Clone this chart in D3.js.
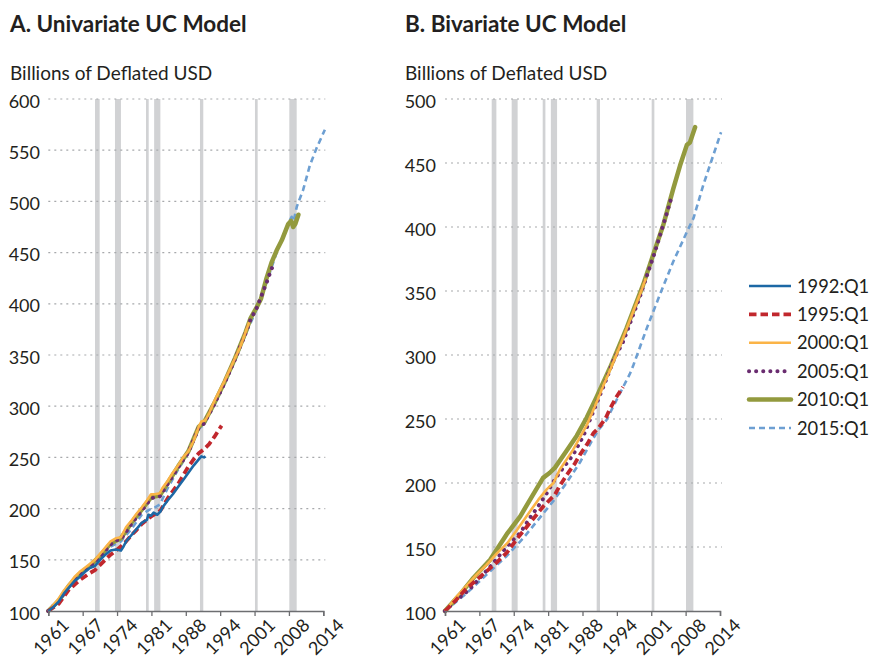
<!DOCTYPE html>
<html><head><meta charset="utf-8">
<script src="https://cdn.jsdelivr.net/npm/d3@7"></script>
<style>
body{margin:0;background:#fff;}
svg{display:block;font-family:Lato, "Open Sans", sans-serif;}
</style></head>
<body><svg id="c" width="871" height="660"></svg>
<script>
// ---------- DATA ----------
const panelTitles = ["A. Univariate UC Model", "B. Bivariate UC Model"];
const yLabel = "Billions of Deflated USD";
const xTickLabels = ["1961","1967","1974","1981","1988","1994","2001","2008","2014"];
const xDomain = [1961, 2014];
const yTicksA = [100,150,200,250,300,350,400,450,500,550,600];
const yTicksB = [100,150,200,250,300,350,400,450,500];
const vintages = ["1992:Q1","1995:Q1","2000:Q1","2005:Q1","2010:Q1","2015:Q1"];
const recessions = [[1970.0,1970.9],[1973.85,1975.0],[1979.83,1980.35],[1981.4,1982.6],[1990.23,1990.87],[2000.83,2001.35],[2007.45,2008.87]];

// Panel A (univariate) – [year, value]
const uni1992 = [[1961,100],[1962,104],[1963,109],[1964,117],[1965,123],[1966,129],[1967,133],[1968,138],[1969,142],[1970,144],[1971,150],[1972,155],[1973,159],[1974,160],[1975,159],[1975.5,163],[1976,168],[1977,174],[1978,180],[1979,186],[1980,189],[1980.3,194],[1980.8,193],[1981.3,196],[1982,194],[1982.6,197],[1983,201],[1984,208],[1985,214],[1986,221],[1987,228],[1988,235],[1989,242],[1990,248],[1990.5,251],[1991,250],[1991.3,251]];
const uni1995 = [[1961,100],[1963,107],[1965,121],[1967,130],[1969,137],[1970,140],[1972,150],[1973,155],[1974,159],[1975,163],[1976,168],[1977,174],[1978,179],[1979,185],[1980,189],[1981,193],[1982,196],[1982.6,198],[1984,210],[1986,224],[1988,241],[1989,248],[1990,254],[1991,258],[1992,263],[1993,270],[1994,278],[1994.4,281]];
const uni2000 = [[1961,100],[1962,106],[1963,112],[1964,120],[1965,126],[1966,133],[1967,138],[1968,142],[1969,146],[1970,150],[1971,156],[1972,162],[1973,168],[1974,171],[1975,172],[1976,182],[1977,188],[1978,195],[1979,201],[1980,208],[1980.8,214],[1981.5,214],[1982.5,215],[1983,220],[1984,227],[1985,235],[1986,242],[1987,250],[1988,256],[1989,266],[1990,280],[1990.5,285],[1991.2,286],[1992,293],[1993,305],[1994,315],[1995,325],[1996,336],[1997,347],[1998,358],[1999,372],[1999.7,382]];
const uni2005 = [[1961,100],[1963,110],[1965,124],[1967,135],[1969,143],[1971,153],[1973,165],[1974,169],[1975,170],[1977,185],[1979,198],[1980.8,210],[1982.5,212],[1984,224],[1986,240],[1988,255],[1990,279],[1991,283],[1993,302],[1995,323],[1997,346],[1999,371],[2000,385],[2001.1,395],[2002.1,408],[2003.1,421],[2004,434],[2004.7,440]];
const uni2010 = [[1961,100],[1963,110],[1965,125],[1967,136],[1969,144],[1971,154],[1973,166],[1975,171],[1977,186],[1979,199],[1980.8,211],[1982.5,213],[1984,225],[1986,241],[1988,256],[1990,280],[1991,284],[1993,303],[1995,324],[1997,347],[1999,372],[2000,386],[2001,395],[2002,405],[2003,424],[2004,440],[2005,452],[2006,462],[2007.25,478],[2007.8,481],[2008.2,475],[2008.6,478],[2009.2,487]];
const uni2015 = [[1961,100],[1963,109],[1965,123],[1967,134],[1969,142],[1971,152],[1973,163],[1975,168],[1977,180],[1979,194],[1980.5,199],[1981.5,201],[1982.5,204],[1984,220],[1986,238],[1988,254],[1990,278],[1991,282],[1993,301],[1995,322],[1997,345],[1999,370],[2001,393],[2003,420],[2005,450],[2006,463],[2007.2,478],[2007.9,485],[2008.3,481],[2008.9,495],[2010.1,511],[2011.4,535],[2012.7,552],[2014.3,570]];

// Panel B (bivariate) – [year, value]
const biv1995 = [[1961,100],[1963,108],[1965,117],[1967,124],[1969,131],[1971,138],[1973,146],[1975,157],[1977,167],[1979,177],[1980,182],[1981,186],[1982.2,191],[1983,197],[1984.4,206],[1986,215],[1987,222],[1988.5,231],[1989.6,239],[1990.6,243],[1992,251],[1992.8,258],[1994,267],[1995.3,275]];
const biv2000 = [[1961,100],[1963,110],[1965,119],[1967,128],[1969,136],[1971,145],[1973,153],[1975,164],[1977.4,178],[1979,187],[1980.6,195],[1981.9,200],[1983.2,211],[1985.7,226],[1988.3,245],[1990,261],[1991.5,276],[1993,290],[1995,310],[1997,331],[1999,352],[1999.7,360]];
const biv2005 = [[1961,100],[1963,108],[1965.5,116],[1968,127],[1970,136],[1972,146],[1974,155],[1975.5,161],[1977.4,173],[1979,182],[1980.6,192],[1982.2,203],[1983.8,212],[1985.7,222],[1987.7,237],[1989.6,256],[1991.8,278],[1993.5,296],[1995.4,311],[1998.6,346],[2001.5,381],[2004,414],[2004.7,424]];
const biv2010 = [[1961,100],[1963.9,113],[1966.5,126],[1969.7,140],[1972.9,160],[1975.5,174],[1977.4,187],[1979.9,204],[1981.2,208],[1982.2,212],[1984.4,225],[1986.4,237],[1988.3,251],[1990.2,267],[1992.8,290],[1996,321],[1999.2,355],[2001.1,378],[2003.1,402],[2005,430],[2006.3,448],[2007.6,464],[2008.2,466],[2009.2,478]];
const biv2015 = [[1961,100],[1965.2,114],[1969.7,131],[1972.9,143],[1976.1,157],[1979.3,173],[1981.9,186],[1984.4,200],[1987,216],[1989.6,235],[1990.5,241],[1992.1,249],[1994.7,270],[1996.6,285],[1997.3,292],[1999.9,321],[2002.4,347],[2005,373],[2007.6,396],[2008.9,407],[2010.8,433],[2012.7,456],[2014.2,474]];

// ---------- STYLES ----------
const styles = {
  "1992:Q1": {color:"#1c68a5", w:2.6, dash:null, cap:"butt"},
  "1995:Q1": {color:"#c1272d", w:3.8, dash:"7.5,4", cap:"butt"},
  "2000:Q1": {color:"#fbb447", w:2.6, dash:null, cap:"butt"},
  "2005:Q1": {color:"#6a2c70", w:4, dash:"0.1,7", cap:"round"},
  "2010:Q1": {color:"#939a3e", w:4.5, dash:null, cap:"round"},
  "2015:Q1": {color:"#6d9fd2", w:2.6, dash:"6,4", cap:"butt"}
};

const svg = d3.select("#c");
const fontSm = 18;

function panel(opts){
  const {x0, x1, y0, y1, yMax, ticks, title, series, labelX, titleX} = opts;
  const x = d3.scaleLinear().domain(xDomain).range([x0, x1]);
  const y = d3.scaleLinear().domain([100, yMax]).range([y1, y0]);
  const g = svg.append("g");

  g.append("text").attr("x", titleX).attr("y", 32).attr("font-size", 22.5).attr("font-weight", 700).attr("fill","#231f20").text(title);
  g.append("text").attr("x", titleX).attr("y", 80).attr("font-size", 19).attr("fill","#231f20").text(yLabel);

  // recessions
  g.selectAll("rect.rec").data(recessions).enter().append("rect")
    .attr("x", d => x(d[0])).attr("width", d => x(d[1]) - x(d[0]))
    .attr("y", y(yMax)).attr("height", y(100) - y(yMax))
    .attr("fill", "#d1d2d4");

  // gridlines
  g.selectAll("line.grid").data(ticks.filter(t => t > 100)).enter().append("line")
    .attr("x1", x0).attr("x2", x1 + 2).attr("y1", d => y(d)).attr("y2", d => y(d))
    .attr("stroke", "#a7a9ac").attr("stroke-width", 1.2).attr("stroke-dasharray", "2,4");

  // y labels
  g.selectAll("text.yl").data(ticks).enter().append("text")
    .attr("x", labelX).attr("y", d => y(d)).attr("dy", "0.48em")
    .attr("text-anchor", "end").attr("font-size", fontSm).attr("fill","#231f20").text(d => d);

  // lines
  const line = d3.line().x(d => x(d[0])).y(d => y(d[1]));
  const order = ["2015:Q1","2010:Q1","2005:Q1","2000:Q1","1995:Q1","1992:Q1"];
  order.forEach(k => {
    const data = series[k];
    if (!data) return;
    const s = styles[k];
    g.append("path").datum(data).attr("d", line).attr("fill","none")
      .attr("stroke", s.color).attr("stroke-width", s.w)
      .attr("stroke-dasharray", s.dash).attr("stroke-linecap", s.cap).attr("stroke-linejoin","round");
  });

  // x axis
  const tickPos = xTickLabels.map((l, i) => xDomain[0] + i * (xDomain[1] - xDomain[0]) / (xTickLabels.length - 1));
  const axis = d3.axisBottom(x).tickValues(tickPos).tickSize(5).tickFormat((d, i) => xTickLabels[i]);
  const ax = g.append("g").attr("transform", `translate(0,${y(100)})`).call(axis);
  ax.select(".domain").attr("stroke", "#6d6e71").attr("stroke-width", 1.5);
  ax.selectAll(".tick line").attr("stroke", "#6d6e71").attr("stroke-width", 1.3);
  ax.selectAll(".tick text").attr("font-size", 18).attr("font-family", "Lato, sans-serif").attr("fill", "#231f20")
    .attr("text-anchor", "end").attr("transform", "translate(9,3) rotate(-45)").attr("dy", "0.75em").attr("y", 4);
}

panel({x0:48.3, x1:323.3, y0:99, y1:611, yMax:600, ticks:yTicksA, title:panelTitles[0], labelX:40, titleX:10,
  series:{"1992:Q1":uni1992,"1995:Q1":uni1995,"2000:Q1":uni2000,"2005:Q1":uni2005,"2010:Q1":uni2010,"2015:Q1":uni2015}});
panel({x0:445, x1:720, y0:99, y1:611, yMax:500, ticks:yTicksB, title:panelTitles[1], labelX:436, titleX:405,
  series:{"1995:Q1":biv1995,"2000:Q1":biv2000,"2005:Q1":biv2005,"2010:Q1":biv2010,"2015:Q1":biv2015}});

// legend
const lg = svg.append("g");
vintages.forEach((k, i) => {
  const yy = 286 + i * 28.4;
  const s = styles[k];
  lg.append("line").attr("x1", 749).attr("x2", 791).attr("y1", yy).attr("y2", yy)
    .attr("stroke", s.color).attr("stroke-width", s.w).attr("stroke-dasharray", s.dash).attr("stroke-linecap", s.cap);
  lg.append("text").attr("x", 797).attr("y", yy).attr("dy", "0.36em").attr("font-size", 18.3).attr("fill","#231f20").text(k);
});
</script></body></html>
